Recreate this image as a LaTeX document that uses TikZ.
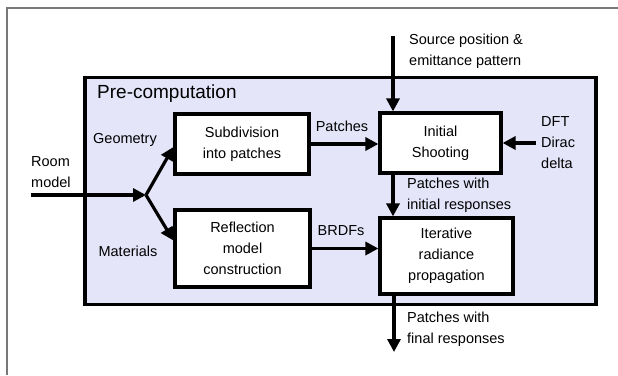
\documentclass[tikz,border=0pt]{standalone}
\usepackage{fontspec}
\setmainfont{Liberation Sans}
\usetikzlibrary{arrows.meta,calc}
\definecolor{panelfill}{RGB}{229,229,250}
\definecolor{framegray}{RGB}{120,120,120}
\begin{document}
\begin{tikzpicture}[x=1pt,y=-1pt,
  every node/.style={font=\fontsize{14.5}{21}\selectfont, inner sep=0pt},
  procbox/.style={draw=black, fill=white, line width=3.2pt, align=center},
  flow/.style={line width=3.2pt, -{Triangle[length=13pt,width=13pt]}},
  lbl/.style={align=left, anchor=west}]
  \useasboundingbox (0,0) rectangle (618,375);
  % page frame
  \draw[framegray, line width=2pt] (7,375) -- (7,8) -- (618,8);

  % pre-computation panel
  \node[draw=black, fill=panelfill, line width=3.2pt, minimum width=511pt, minimum height=227pt] (pre) at (340.5,191) {};
  \node[anchor=west, font=\fontsize{19}{23}\selectfont] (pretitle) at (97,94) {Pre-computation};

  % processing stages
  \node[procbox, minimum width=134pt, minimum height=60pt] (sub) at (242,144) {Subdivision\\into patches};
  \node[procbox, minimum width=135pt, minimum height=77pt] (refl) at (242.5,248.5) {Reflection\\model\\construction};
  \node[procbox, minimum width=121pt, minimum height=60pt] (init) at (440.5,143) {Initial\\Shooting};
  \node[procbox, minimum width=133pt, minimum height=76pt] (iter) at (446.5,256) {Iterative\\radiance\\propagation};

  % free ends of the connectors
  \coordinate (roomstart) at (31,195);
  \coordinate (branch) at (146,195);
  \coordinate (srcstart) at (393,36);
  \coordinate (dftstart) at (536,143);
  \coordinate (outend) at (394,352);

  % connectors
  \draw[flow] (roomstart) -- (branch);
  \draw[flow] (branch) -- ([yshift=-3pt]sub.west);
  \draw[flow] (branch) -- ([yshift=8pt]refl.west);
  \draw[flow] (srcstart) -- (srcstart |- init.north);
  \draw[flow] (dftstart) -- (dftstart -| init.east);
  \draw[flow] (sub.east) -- (sub.east -| init.west);
  \draw[flow] (srcstart |- init.south) -- (srcstart |- iter.north);
  \draw[flow] (refl.east) -- (refl.east -| iter.west);
  \draw[flow] (outend |- iter.south) -- (outend);

  % labels
  \node[lbl] (roomlbl) at (31,172) {Room\\model};
  \node (geolbl) at (125,140) {Geometry};
  \node (matlbl) at (128,251) {Materials};
  \node (patchlbl) at (342,126) {Patches};
  \node (brdflbl) at (341,231) {BRDFs};
  \node[lbl] (srclbl) at (409,51.5) {Source position \&\\emittance pattern};
  \node[lbl] (dftlbl) at (541,143) {DFT\\Dirac\\delta};
  \node[lbl] (initlbl) at (407,195.5) {Patches with\\initial responses};
  \node[lbl] (finallbl) at (407,329) {Patches with\\final responses};
\end{tikzpicture}
\end{document}
